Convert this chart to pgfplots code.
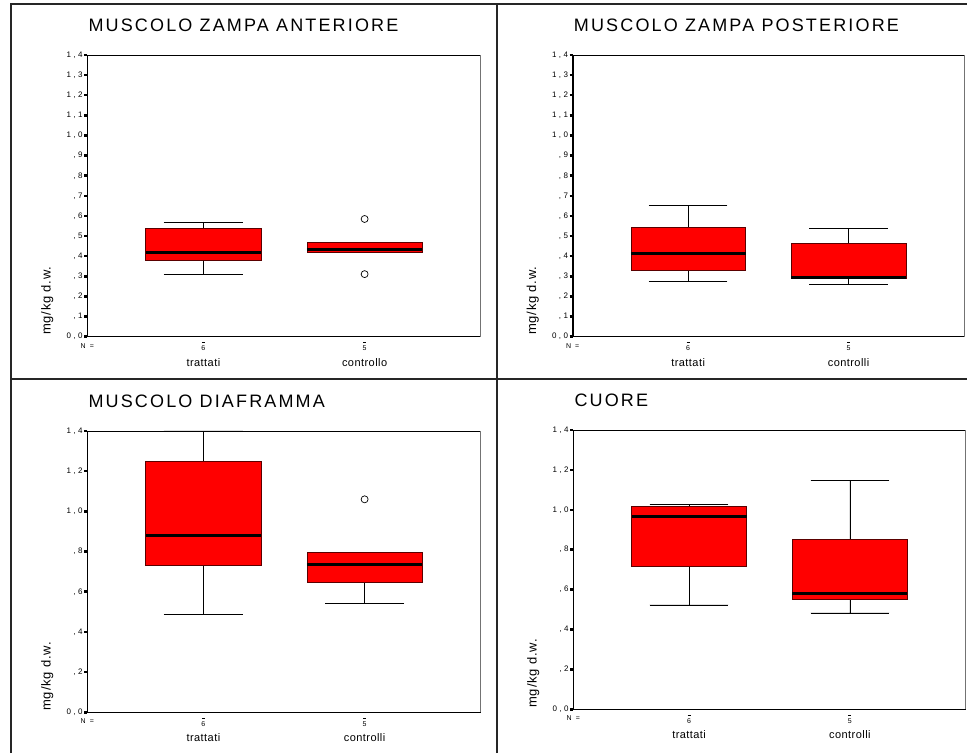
\documentclass[border=0pt]{standalone}
\usepackage{pgfplots}
\pgfplotsset{compat=1.18}
\usepgfplotslibrary{statistics}
\usepackage{fontspec}
\setmainfont{Liberation Sans}
\newfontfamily\titlefont[LetterSpace=12]{Liberation Sans}
\newfontfamily\tickfont[LetterSpace=30]{Liberation Sans}
\newfontfamily\catfont[LetterSpace=4]{Liberation Sans}
\newfontfamily\labfont[LetterSpace=6]{Liberation Sans}
\definecolor{boxred}{RGB}{255,0,0}
\definecolor{boxedge}{RGB}{90,0,0}

\pgfplotsset{
 panel/.style={
  scale only axis, anchor=south west,
  xmin=0.28, xmax=2.72, ymin=0, ymax=1.4,
  axis line style={black, line width=0.7pt},
  xtick={1,2}, xticklabels={{\rule{3pt}{0.6pt}\\6},{\rule{3pt}{0.6pt}\\5}},
  xtick style={draw=none},
  xticklabel style={font=\tickfont\fontsize{7}{8}\selectfont, align=center, inner sep=0pt, yshift=-2pt},
  ytick pos=left, tick align=outside, major tick length=3pt,
  ytick style={line width=2.5pt, black},
  yticklabel style={font=\tickfont\fontsize{8}{8}\selectfont, inner sep=0pt, xshift=-1.5pt},
  clip=false,
  title style={at={(0,1)}, anchor=base west, yshift=17pt, xshift=1pt, font=\titlefont\fontsize{18}{18}\selectfont, inner sep=0pt},
 },
 fine/.style={ytick={0,0.1,...,1.41}, yticklabels={{0,0},{,1},{,2},{,3},{,4},{,5},{,6},{,7},{,8},{,9},{1,0},{1,1},{1,2},{1,3},{1,4}}},
 coarse/.style={ytick={0,0.2,...,1.41}, yticklabels={{0,0},{,2},{,4},{,6},{,8},{1,0},{1,2},{1,4}}},
 redbox/.style={draw=boxedge, fill=boxred, line width=0.6pt, mark=o,
   mark options={draw=black, fill=none, line width=0.7pt}, mark size=3.5pt,
   boxplot/draw direction=y,
   boxplot/box extend=0.715, boxplot/whisker extend=0.49,
   boxplot/every median/.style={black, line width=3pt},
   boxplot/every whisker/.style={black, line width=0.7pt}},
}
\newcommand{\decor}[2]{%
  \draw[line width=1.6pt, black] (rel axis cs:0,1) -- (rel axis cs:0,0) -- (rel axis cs:1,0);
  \draw[line width=0.9pt, black!55] (rel axis cs:1,0) -- (rel axis cs:1,1);
  \node[font=\tickfont\fontsize{7}{7}\selectfont, inner sep=0pt] at ([yshift=-9pt]rel axis cs:0,0) {N =};
  \node[font=\catfont\fontsize{11}{11}\selectfont, inner sep=0pt] at ([yshift=-25.5pt]axis cs:1,0) {#1};
  \node[font=\catfont\fontsize{11}{11}\selectfont, inner sep=0pt] at ([yshift=-25.5pt]axis cs:2,0) {#2};
  \node[rotate=90, anchor=west, inner sep=0pt, font=\labfont\fontsize{13}{13}\selectfont] at ([xshift=-40pt, yshift=1.5pt]rel axis cs:0,0) {mg/kg d.w.};
}

\begin{document}
\begin{tikzpicture}
\useasboundingbox (0,0) rectangle (967pt,753pt);
\draw[line width=1.5pt, black!85] (11pt,0pt) -- (11pt,749pt) -- (967pt,749pt);
\draw[line width=1.5pt, black!85] (497pt,0pt) -- (497pt,749pt);
\draw[line width=1.5pt, black!85] (11pt,374pt) -- (967pt,374pt);

% Panel 1
\begin{axis}[panel, fine, at={(87.3pt,416.3pt)}, width=393.4pt, height=281.7pt, title={MUSCOLO ZAMPA ANTERIORE}]
\addplot[redbox, boxplot prepared={draw position=1, lower whisker=0.31, lower quartile=0.379, median=0.419, upper quartile=0.537, upper whisker=0.568}] coordinates {};
\addplot[redbox, boxplot prepared={draw position=2, lower whisker=0.417, lower quartile=0.417, median=0.431, upper quartile=0.470, upper whisker=0.470}] coordinates {(2,0.585) (2,0.311)};
\decor{trattati}{controllo}
\end{axis}

% Panel 2
\begin{axis}[panel, fine, at={(572.7pt,416.3pt)}, width=391.3pt, height=281.7pt, title={MUSCOLO ZAMPA POSTERIORE}]
\addplot[redbox, boxplot prepared={draw position=1, lower whisker=0.275, lower quartile=0.328, median=0.411, upper quartile=0.543, upper whisker=0.651}] coordinates {};
\addplot[redbox, boxplot prepared={draw position=2, lower whisker=0.26, lower quartile=0.29, median=0.295, upper quartile=0.464, upper whisker=0.538}] coordinates {};
\decor{trattati}{controlli}
\end{axis}

% Panel 3
\begin{axis}[panel, coarse, at={(87.3pt,40.7pt)}, width=393.4pt, height=281.3pt, title={MUSCOLO DIAFRAMMA}]
\addplot[redbox, boxplot prepared={draw position=1, lower whisker=0.489, lower quartile=0.731, median=0.879, upper quartile=1.247, upper whisker=1.40}] coordinates {};
\addplot[redbox, boxplot prepared={draw position=2, lower whisker=0.542, lower quartile=0.645, median=0.738, upper quartile=0.796, upper whisker=0.796}] coordinates {(2,1.06)};
\decor{trattati}{controlli}
\end{axis}

% Panel 4
\begin{axis}[panel, coarse, at={(573.3pt,43.7pt)}, width=392.4pt, height=279.3pt, title={CUORE}]
\addplot[redbox, boxplot prepared={draw position=1, lower whisker=0.523, lower quartile=0.717, median=0.967, upper quartile=1.016, upper whisker=1.026}] coordinates {};
\addplot[redbox, boxplot prepared={draw position=2, lower whisker=0.483, lower quartile=0.551, median=0.580, upper quartile=0.854, upper whisker=1.148}] coordinates {};
\decor{trattati}{controlli}
\end{axis}
\end{tikzpicture}
\end{document}
